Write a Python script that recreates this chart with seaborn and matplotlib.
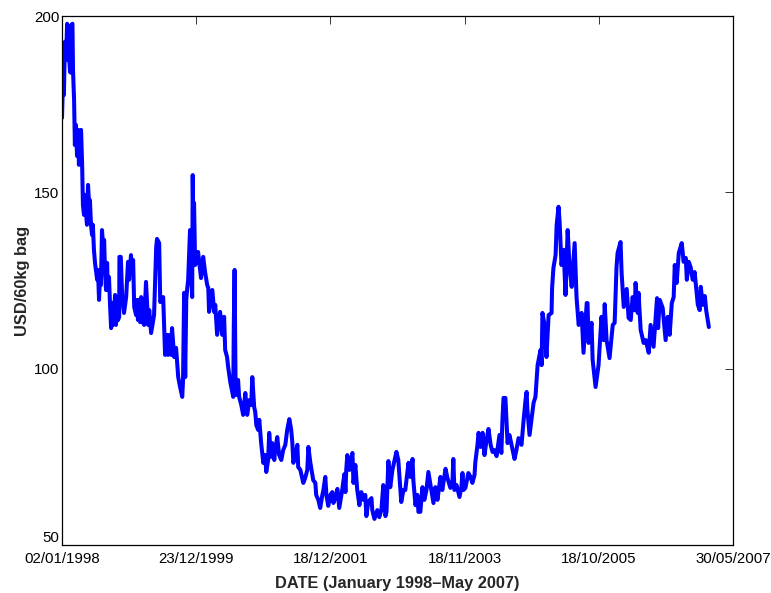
import matplotlib
matplotlib.use('Agg')
import matplotlib.pyplot as plt
import pandas as pd
import seaborn as sns

# trading day number since 02/01/1998
days = [0, 4, 7, 11, 15, 19, 22, 26, 30, 34, 35, 39, 41, 45, 47, 48, 52, 56, 60, 63,
        67, 71, 75, 78, 82, 86, 90, 93, 97, 101, 104, 108, 112, 115, 119, 123, 131, 134, 138, 142,
        145, 149, 153, 157, 160, 164, 168, 171, 175, 179, 183, 186, 190, 194, 198, 201, 205, 209, 213, 214,
        219, 224, 231, 239, 246, 250, 257, 261, 265, 269, 276, 280, 283, 287, 291, 295, 298, 306, 313, 321,
        325, 332, 343, 351, 354, 362, 366, 377, 384, 392, 395, 403, 407, 410, 418, 425, 433, 440, 448, 451,
        455, 459, 463, 466, 470, 477, 481, 485, 487, 490, 492, 496, 503, 507, 518, 526, 533, 541, 545, 548,
        560, 567, 571, 578, 589, 597, 604, 608, 615, 619, 627, 638, 640, 643, 647, 656, 660, 668, 675, 683,
        690, 698, 705, 709, 716, 720, 724, 731, 735, 742, 750, 757, 761, 768, 772, 779, 783, 791, 794, 802,
        809, 817, 824, 832, 839, 847, 854, 858, 862, 869, 877, 880, 888, 899, 906, 914, 918, 925, 936, 944,
        947, 955, 962, 970, 974, 981, 985, 992, 1000, 1007, 1011, 1018, 1026, 1033, 1041, 1044, 1052, 1056, 1059, 1063,
        1071, 1078, 1082, 1086, 1093, 1100, 1108, 1115, 1123, 1130, 1134, 1141, 1153, 1156, 1164, 1175, 1182, 1190, 1197, 1205,
        1209, 1216, 1223, 1231, 1246, 1253, 1264, 1272, 1279, 1291, 1298, 1306, 1309, 1317, 1324, 1328, 1335, 1343, 1350, 1358,
        1365, 1373, 1384, 1391, 1399, 1410, 1417, 1429, 1436, 1447, 1455, 1458, 1462, 1470, 1481, 1488, 1492, 1496, 1503, 1514,
        1522, 1529, 1537, 1540, 1548, 1552, 1559, 1567, 1574, 1582, 1589, 1597, 1604, 1611, 1619, 1630, 1637, 1641, 1645, 1652,
        1660, 1667, 1679, 1686, 1693, 1701, 1712, 1720, 1727, 1731, 1734, 1742, 1749, 1757, 1764, 1772, 1783, 1787, 1790, 1798,
        1805, 1813, 1824, 1826, 1831, 1839, 1843, 1850, 1854, 1861, 1869, 1876, 1884, 1891, 1899, 1910, 1917, 1925, 1936, 1943,
        1955, 1958, 1962, 1973, 1977, 1988, 1999, 2010, 2018, 2022, 2029, 2040, 2052, 2059, 2066, 2070, 2081, 2085, 2093, 2104,
        2111, 2119, 2126, 2134, 2137, 2145, 2148, 2156, 2167, 2175, 2186, 2193, 2204, 2217, 2221, 2227, 2238, 2249, 2257, 2264,
        2272, 2279, 2283, 2290, 2298, 2309, 2316, 2324, 2328, 2335, 2342, 2350, 2357, 2369, 2376, 2380, 2387, 2395, 2400, 2410]

# price in USD per 60kg bag
price = [171.1, 182.4, 177.6, 192.7, 187.5, 197.8, 196.6, 189, 184.1, 183.9, 197.5, 197.8, 184.7, 176.2, 168.5, 163.4, 169.1, 160.3, 167.7, 157.8,
         166.8, 167.7, 157.8, 146.4, 143.6, 149.3, 143.6, 140.8, 152.1, 146.4, 147.8, 140.8, 137.9, 140.8, 133.7, 130, 125.2, 128, 119.5, 127.1,
         123.7, 139.3, 135.1, 136.5, 128, 122.3, 130, 122.3, 126, 118.1, 111.5, 118.6, 112.4, 116.6, 120.9, 112.4, 116.6, 113.8, 114.7, 131.7,
         131.7, 120.9, 115.8, 120.3, 130.3, 125.2, 132.2, 128, 130.8, 117.5, 115.2, 119.5, 113.8, 119.5, 113.2, 120.3, 113.8, 112.4, 124.6, 112.4,
         116.6, 110.1, 115.2, 134.5, 136.8, 135.6, 118.9, 120.3, 103.9, 109.6, 103.9, 109.6, 103.9, 111.5, 103.3, 105.9, 97.6, 94.8, 92, 96.8,
         121.5, 97.6, 119.5, 122.3, 125.2, 139.3, 128, 120.3, 154.9, 136.5, 147, 129.4, 130.8, 133.1, 125.7, 131.7, 127.4, 123.7, 122.9, 116.1,
         122.3, 116.1, 118.1, 109.6, 116.1, 109.6, 114.7, 105.3, 103.3, 100.5, 96.2, 92, 111.8, 128, 92.5, 96.8, 92, 89.7, 86.9, 93.1,
         86.9, 91.1, 89.7, 97.6, 89.1, 87.7, 84, 82.6, 85.5, 78.9, 73.3, 75.5, 70.7, 74.1, 81.8, 75, 78.9, 74.1, 76.9, 80.6,
         75.5, 74.1, 76.9, 78.4, 82.6, 85.7, 82.6, 79.2, 73.3, 75.5, 78.4, 72.1, 71.3, 67.6, 69, 71.3, 77.8, 73.5, 68.4, 67.6,
         64.2, 62.8, 60.5, 64.2, 65.6, 69.3, 64.2, 61.1, 64.2, 65, 61.9, 63.3, 65.9, 60.5, 64.2, 65.6, 70.1, 65, 71.3, 75.5,
         71.3, 74.1, 76.1, 67.6, 72.7, 65.6, 61.3, 65, 62.8, 64.2, 58.2, 62.2, 63.3, 59.9, 57.4, 59.9, 57.9, 59.9, 67, 58.2,
         59.4, 73.8, 66.4, 71.3, 76.4, 74.1, 62.2, 65.6, 65.6, 73.3, 69.3, 74.4, 68.4, 61.3, 64.2, 59.4, 59.4, 66.4, 62.8, 65.6,
         70.7, 67, 61.9, 66.4, 62.8, 69.3, 65.6, 71.6, 69, 66.2, 68.4, 74.4, 65.6, 67, 63.6, 66.4, 70.4, 65.6, 66.2, 70.4,
         69.3, 67.6, 69.9, 73.5, 78.4, 81.8, 77.8, 81.8, 75.5, 79.8, 82.9, 78.4, 76.4, 76.9, 75.2, 81.2, 76.1, 85.5, 91.7, 91.7,
         78.9, 81.2, 76.9, 74.4, 76.9, 80.3, 78.4, 85.5, 91.1, 93.4, 88.3, 81.2, 85.5, 90.3, 92, 101, 105.3, 101, 115.8, 112.4,
         103.3, 115.2, 115.8, 122.9, 128.6, 132.2, 140.8, 145.9, 141.6, 129.4, 133.7, 120.9, 139.3, 128.8, 123.2, 135.6, 120.3, 112.4, 115.8, 104.5,
         118.6, 118.6, 107.3, 113, 102.5, 94.8, 101, 114.7, 108.1, 118.3, 108.1, 103, 112.4, 113, 128.8, 132.8, 135.9, 127.1, 117.5, 122.6,
         114.4, 113.8, 120.3, 116.6, 124.3, 115.8, 121.5, 111, 107.3, 108.1, 104.5, 112.4, 106.2, 120, 111.5, 119.5, 117.2, 108.1, 114.7, 109.6,
         118.6, 120.3, 129.4, 124.3, 132.8, 135.6, 130.3, 131.4, 125.2, 130.3, 128.8, 125.2, 127.4, 118.1, 116.6, 123.2, 118.1, 120.6, 116.6, 111.8]

tick_days = [0, 500, 1000, 1500, 2000, 2500]
tick_labels = ['02/01/1998', '23/12/1999', '18/12/2001', '18/11/2003', '18/10/2005', '30/05/2007']
y_ticks = [50, 100, 150, 200]

sns.set_style('white')
plt.rcParams['font.family'] = ['Liberation Sans', 'DejaVu Sans']

df = pd.DataFrame({'day': days, 'price': price})

fig, ax = plt.subplots(figsize=(7.71, 5.93), dpi=100)
fig.subplots_adjust(left=62 / 771, right=733 / 771, top=1 - 16 / 593, bottom=1 - 545 / 593)

sns.lineplot(data=df, x='day', y='price', estimator=None, sort=False,
             color='#0000ff', linewidth=2.9, ax=ax)

ax.set_xlim(0, 2500)
ax.set_ylim(50, 200)
ax.set_xticks(tick_days)
ax.set_xticklabels(tick_labels)
ax.set_yticks(y_ticks)
ax.tick_params(direction='in', length=6, width=0.7, color='#333333', top=True, right=True,
               labelsize=10.8, labelcolor='black')
ax.tick_params(axis='x', pad=5)
ax.tick_params(axis='y', pad=2)
# the 50 sits just above the axis corner, clear of the first date
ax.get_yticklabels()[0].set_va('bottom')
for spine in ax.spines.values():
    spine.set_visible(True)
    spine.set_color('black')
    spine.set_linewidth(0.9)

ax.set_xlabel('DATE (January 1998\u2013May 2007)', fontsize=11.8, fontweight='bold', labelpad=7.5)
ax.set_ylabel('USD/60kg bag', fontsize=11.8, fontweight='bold', labelpad=2.5)

fig.savefig('out.png', dpi=100)
